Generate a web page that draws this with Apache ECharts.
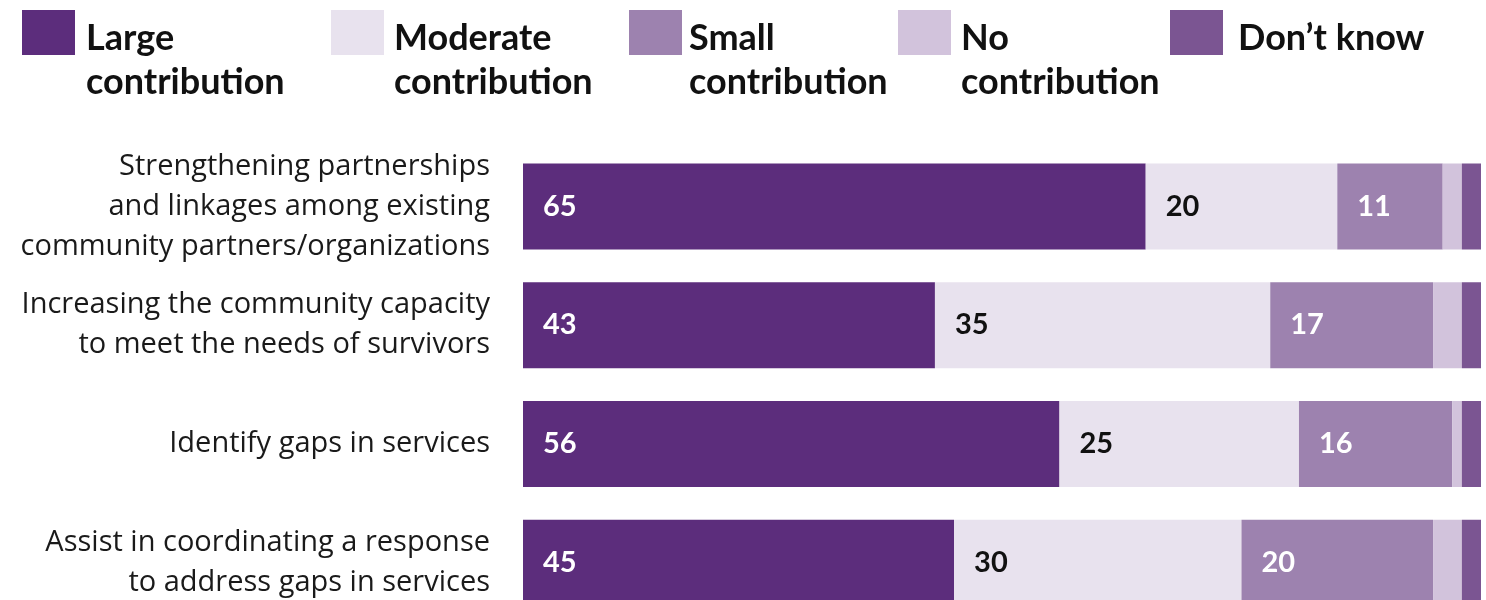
<!DOCTYPE html>
<html>
<head>
<meta charset="utf-8">
<style>
  html, body { margin: 0; padding: 0; background: #ffffff; }
  #chart { width: 1486px; height: 600px; }
</style>
<script src="https://cdn.jsdelivr.net/npm/echarts@6/dist/echarts.min.js"></script>
</head>
<body>
<div id="chart"></div>
<script>
// Survey items (top to bottom)
const categories = [
  'Strengthening partnerships\nand linkages among existing\ncommunity partners/organizations',
  'Increasing the community capacity\nto meet the needs of survivors',
  'Identify gaps in services',
  'Assist in coordinating a response\nto address gaps in services'
];

// Response shares (%) for each item
const seriesNames = ['Large contribution', 'Moderate contribution', 'Small contribution', 'No contribution', 'Don’t know'];
const largeValues    = [65, 43, 56, 45];
const moderateValues = [20, 35, 25, 30];
const smallValues    = [11, 17, 16, 20];
const noneValues     = [2, 3, 1, 3];
const dontKnowValues = [2, 2, 2, 2];

// Legend text, broken over two lines
const legendLabels = ['Large\ncontribution', 'Moderate\ncontribution', 'Small\ncontribution', 'No\ncontribution', 'Don’t know\n'];

const colors = ['#5c2d7c', '#e8e2ee', '#9d82af', '#d2c3dc', '#7b5592'];
const labelColors = ['#ffffff', '#111111', '#ffffff', null, null];
const BOLD_FONT = 'Lato, "Noto Sans", sans-serif';
const TEXT_FONT = '"Open Sans", "Noto Sans", sans-serif';

const valueSets = [largeValues, moderateValues, smallValues, noneValues, dontKnowValues];

// Legend placement: swatch left edge and the space between swatch and text
const legendLefts = [22, 331, 629, 898, 1170];
const legendTextGaps = [11, 10, 7, 10, 15];

// Swatch 53x45 sitting in the top of a taller box so that it lines up
// with the first line of the two-line legend text
function swatchPath(gap) {
  const w = 53 + gap - 5;
  return 'path://M0,0H53V45H0Z M' + (w - 0.01) + ',99.99H' + w + 'V100H' + (w - 0.01) + 'Z';
}

const series = seriesNames.map((name, i) => ({
  name: name,
  type: 'bar',
  stack: 'total',
  barWidth: 86,
  data: valueSets[i],
  itemStyle: { color: colors[i] },
  emphasis: { disabled: true },
  label: labelColors[i] ? {
    show: true,
    position: 'insideLeft',
    distance: 20,
    color: labelColors[i],
    fontFamily: BOLD_FONT,
    fontWeight: 'bold',
    fontSize: 29
  } : { show: false }
}));

const legends = seriesNames.map((name, i) => ({
  data: [name],
  left: legendLefts[i],
  top: 10,
  padding: 0,
  itemWidth: 53 + legendTextGaps[i] - 5,
  itemHeight: 100,
  itemGap: 0,
  icon: swatchPath(legendTextGaps[i]),
  selectedMode: false,
  formatter: () => legendLabels[i],
  textStyle: {
    fontFamily: BOLD_FONT,
    fontWeight: 'bold',
    fontSize: 36,
    lineHeight: 44,
    color: '#111111'
  }
}));

const chart = echarts.init(document.getElementById('chart'), null, { renderer: 'canvas' });
chart.setOption({
  animation: false,
  color: colors,
  legend: legends,
  // The last row runs past the bottom edge of the canvas
  grid: { left: 523, width: 958, top: 147, height: 475, containLabel: false, outerBoundsMode: 'none' },
  xAxis: {
    type: 'value',
    min: 0,
    max: 100,
    show: false
  },
  yAxis: {
    type: 'category',
    inverse: true,
    data: categories,
    axisLine: { show: false },
    axisTick: { show: false },
    axisLabel: {
      margin: 33,
      fontFamily: TEXT_FONT,
      fontSize: 29,
      lineHeight: 40,
      color: '#1a1a1a',
      align: 'right'
    }
  },
  series: series
});
</script>
</body>
</html>
